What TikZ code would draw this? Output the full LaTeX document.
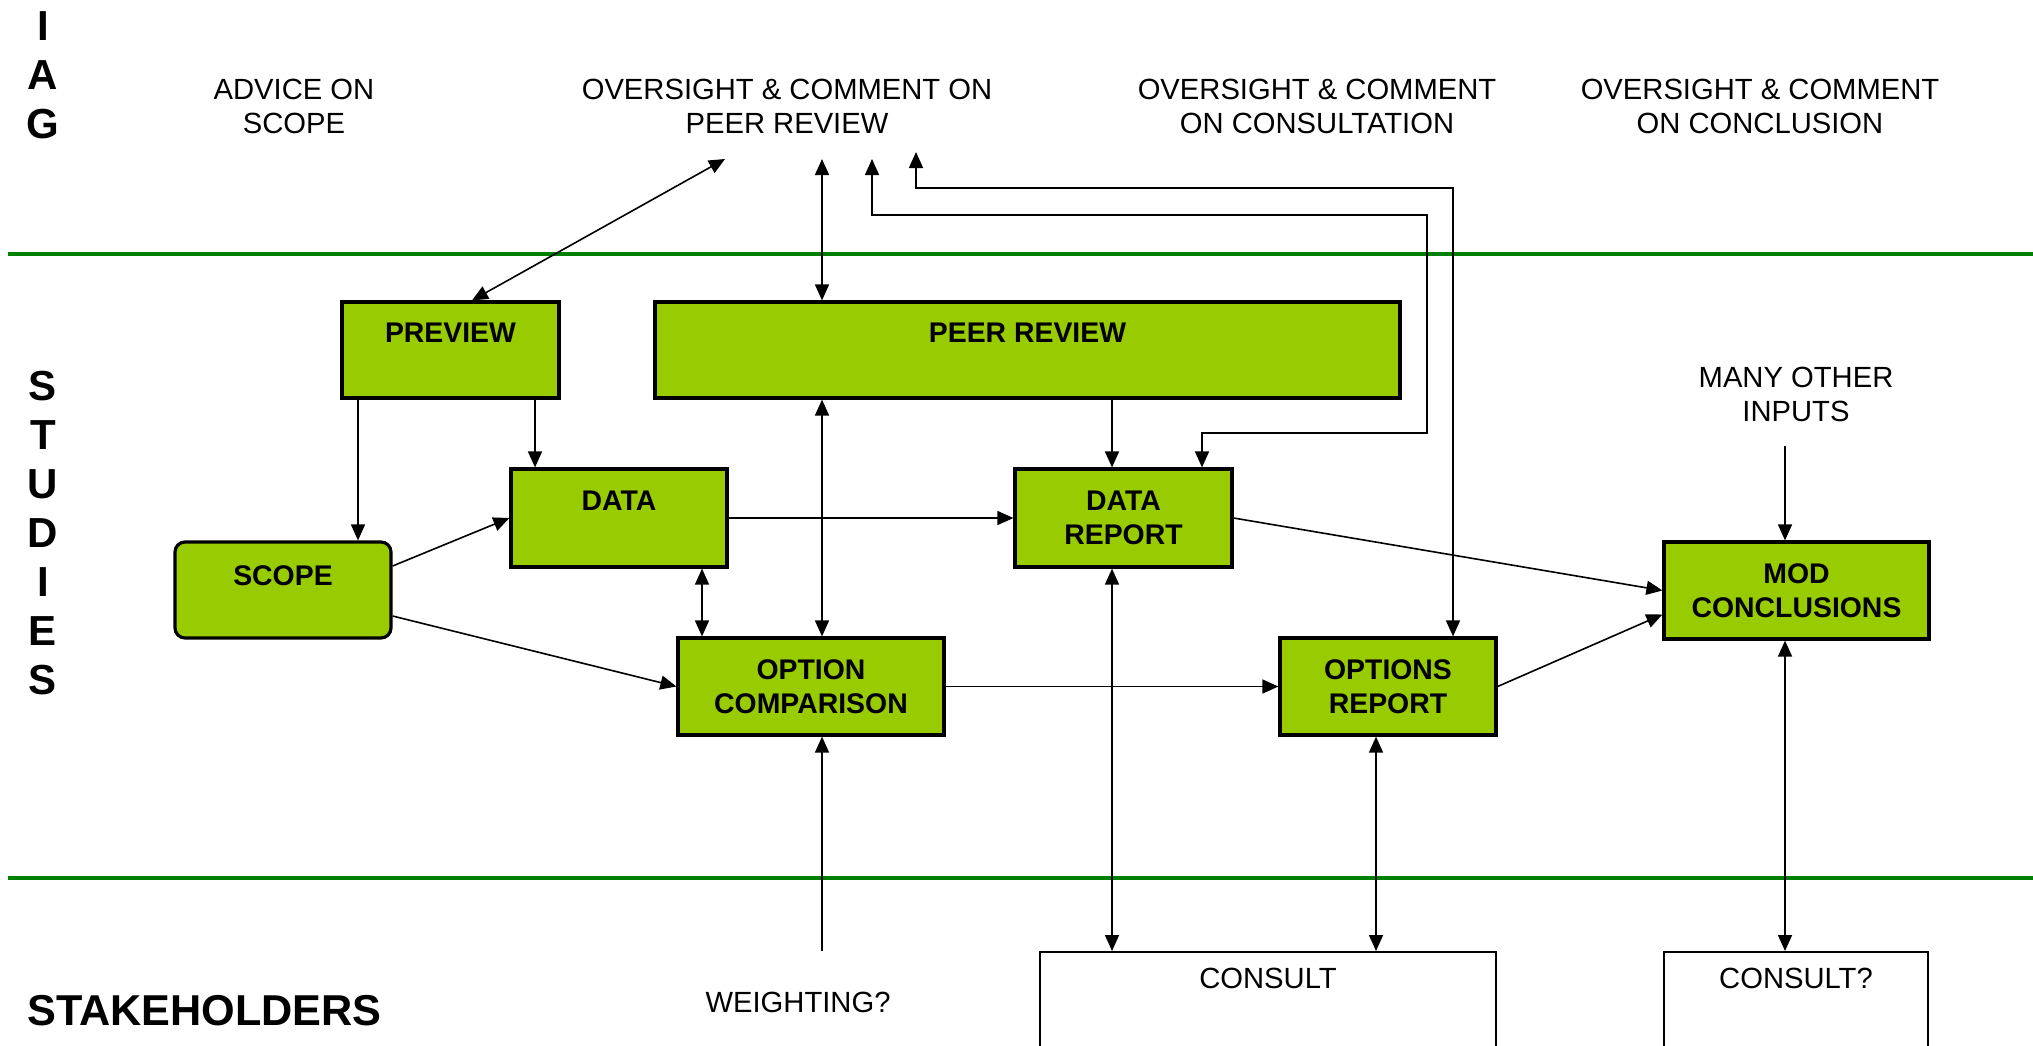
\documentclass[tikz,border=0pt]{standalone}
\usepackage{fontspec}
\setmainfont{Liberation Sans}
\usetikzlibrary{arrows.meta}
\definecolor{boxgreen}{RGB}{153,204,0}
\definecolor{linegreen}{RGB}{0,128,0}
\begin{document}
\begin{tikzpicture}[x=0.5pt,y=-0.5pt,
  gbox/.style={draw, line width=1.6pt, fill=boxgreen, inner sep=0pt, font=\fontsize{14.2}{17}\selectfont\bfseries, align=center},
  onel/.style={text height=20pt, text depth=28pt},
  lbl/.style={font=\fontsize{14.6}{17}\selectfont, align=center, inner sep=0pt},
  big/.style={font=\fontsize{21}{24.5}\selectfont\bfseries, align=center, inner sep=0pt},
  wbox/.style={draw, line width=0.8pt, fill=white, inner sep=0pt, font=\fontsize{14.6}{17}\selectfont, text height=18.5pt, text depth=36pt},
  arr/.style={line width=0.8pt, -{Triangle[length=8pt,width=7pt]}},
  darr/.style={line width=0.8pt, {Triangle[length=8pt,width=7pt]}-{Triangle[length=8pt,width=7pt]}},
  sep/.style={draw=linegreen, line width=2.3pt}
]
\useasboundingbox (0,0) rectangle (2033,1045);
\clip (0,0) rectangle (2033,1045);

% lane separators
\draw[sep] (8,254) -- (2033,254);
\draw[sep] (8,878) -- (2033,878);

% lane titles
\node[big] (iag) at (43,75) {I\\A\\G};
\node[big] (studies) at (43,533) {S\\T\\U\\D\\I\\E\\S};
\node[big, font=\fontsize{21.6}{25}\selectfont\bfseries, anchor=west] (stake) at (27,1011) {STAKEHOLDERS};

% IAG labels
\node[lbl] (advice) at (294,106) {ADVICE ON\\SCOPE};
\node[lbl] (ocpeer) at (787,106) {OVERSIGHT \& COMMENT ON\\PEER REVIEW};
\node[lbl] (occons) at (1317,106) {OVERSIGHT \& COMMENT\\ON CONSULTATION};
\node[lbl] (occonc) at (1760,106) {OVERSIGHT \& COMMENT\\ON CONCLUSION};
\node[lbl] (many) at (1796,394.5) {MANY OTHER\\INPUTS};
\node[lbl] (weight) at (798,1002) {WEIGHTING?};

% boxes
\node[gbox, onel, minimum width=108.5pt] (preview) at (450.5,350) {PREVIEW};
\node[gbox, onel, minimum width=372.5pt] (peer) at (1027.5,350) {PEER REVIEW};
\node[gbox, text height=20.5pt, text depth=28.5pt, minimum width=108pt] (data) at (619,518) {DATA};
\node[gbox, rounded corners=5pt, text height=21.5pt, text depth=26.5pt, minimum width=108pt] (scope) at (283,590) {SCOPE};
\node[gbox, minimum width=133pt, minimum height=48.5pt] (optcomp) at (811,686.5) {OPTION\\COMPARISON};
\node[gbox, minimum width=108.5pt, minimum height=49pt] (datarep) at (1123.5,518) {DATA\\REPORT};
\node[gbox, minimum width=108pt, minimum height=48.5pt] (optrep) at (1388,686.5) {OPTIONS\\REPORT};
\node[gbox, minimum width=132.5pt, minimum height=48.5pt] (mod) at (1796.5,590.5) {MOD\\CONCLUSIONS};
\node[wbox, anchor=north, minimum width=228pt] (consult) at (1268,951) {CONSULT};
\node[wbox, anchor=north, minimum width=132pt] (consultq) at (1796,951) {CONSULT?};

% free ends and bend points
\coordinate (t1) at (725,159);
\coordinate (t2) at (822,159);
\coordinate (t3) at (872,159);
\coordinate (t4) at (916,152);
\coordinate (b1) at (872,215);
\coordinate (b2) at (1427,215);
\coordinate (b3) at (1427,433);
\coordinate (b4) at (1202,433);
\coordinate (c1) at (916,188);
\coordinate (c2) at (1453,188);
\coordinate (xa) at (472,0);
\coordinate (xd) at (358,0);
\coordinate (xe) at (535,0);
\coordinate (xf) at (702,0);
\coordinate (xg) at (1112,0);
\coordinate (xh) at (1376,0);
\coordinate (m0) at (1785,446);
\coordinate (w0) at (822,951);

% connectors
\draw[darr] (t1) -- (preview.north -| xa);
\draw[darr] (t2) -- (peer.north -| t2);
\draw[darr] (t3) -- (b1) -- (b2) -- (b3) -- (b4) -- (datarep.north -| b4);
\draw[darr] (t4) -- (c1) -- (c2) -- (optrep.north -| c2);
\draw[arr] (preview.south -| xd) -- (scope.north -| xd);
\draw[arr] (preview.south -| xe) -- (data.north -| xe);
\draw[arr] ([yshift=12pt]scope.east) -- (data.west);
\draw[arr] ([yshift=-13pt]scope.east) -- (optcomp.west);
\draw[darr] (data.south -| xf) -- (optcomp.north -| xf);
\draw[darr] (peer.south -| t2) -- (optcomp.north -| t2);
\draw[arr] (data.east) -- (datarep.west);
\draw[arr] (peer.south -| xg) -- (datarep.north -| xg);
\draw[arr] (datarep.east) -- (mod.west);
\draw[arr] (optcomp.east) -- (optrep.west);
\draw[arr] (optrep.east) -- ([yshift=-12pt]mod.west);
\draw[arr] (m0) -- (mod.north -| m0);
\draw[darr] (datarep.south -| xg) -- (consult.north -| xg);
\draw[darr] (optrep.south -| xh) -- (consult.north -| xh);
\draw[darr] (mod.south -| m0) -- (consultq.north -| m0);
\draw[arr] (w0) -- (optcomp.south -| w0);
\end{tikzpicture}
\end{document}
